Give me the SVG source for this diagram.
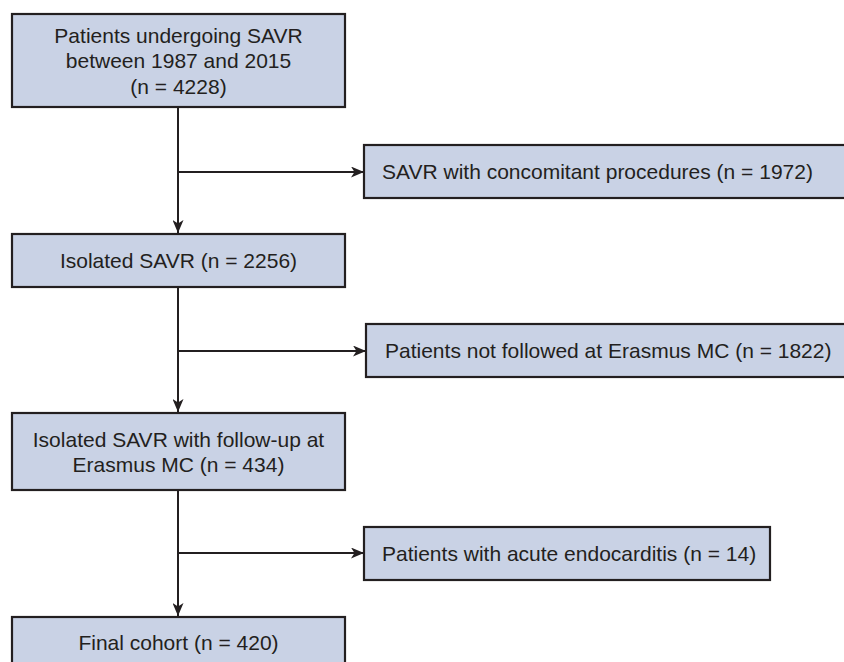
<svg xmlns="http://www.w3.org/2000/svg" width="844" height="662" viewBox="0 0 844 662">
<defs>
<style>
.box{fill:#c9d2e5;stroke:#231f20;stroke-width:2.2}
.t{font-family:"Liberation Sans",Arial,sans-serif;font-size:21px;fill:#231f20}
.c{text-anchor:middle}
.ln{stroke:#231f20;stroke-width:2;fill:none}
</style>
<marker id="ah" viewBox="0 0 13 11" refX="13" refY="5.5" markerWidth="13" markerHeight="11" markerUnits="userSpaceOnUse" orient="auto">
<path d="M0,0 L13,5.5 L0,11 L3.5,5.5 Z" fill="#231f20"/>
</marker>
</defs>
<rect width="844" height="662" fill="#ffffff"/>
<g id="connectors">
<line class="ln" x1="178" y1="107" x2="178" y2="233" marker-end="url(#ah)"/>
<line class="ln" x1="178" y1="172" x2="364" y2="172" marker-end="url(#ah)"/>
<line class="ln" x1="178" y1="287" x2="178" y2="412" marker-end="url(#ah)"/>
<line class="ln" x1="178" y1="351" x2="366" y2="351" marker-end="url(#ah)"/>
<line class="ln" x1="178" y1="490" x2="178" y2="616" marker-end="url(#ah)"/>
<line class="ln" x1="178" y1="553" x2="364" y2="553" marker-end="url(#ah)"/>
</g>
<g id="n1">
<rect class="box" x="12" y="14" width="333" height="93"/>
<text class="t c" x="178.5" y="43">Patients undergoing SAVR</text>
<text class="t c" x="178.5" y="68">between 1987 and 2015</text>
<text class="t c" x="178.5" y="94">(n = 4228)</text>
</g>
<g id="r1">
<rect class="box" x="364" y="145" width="490" height="53"/>
<text class="t" x="382" y="179">SAVR with concomitant procedures (n = 1972)</text>
</g>
<g id="n2">
<rect class="box" x="12" y="234" width="333" height="53"/>
<text class="t c" x="178.5" y="268">Isolated SAVR (n = 2256)</text>
</g>
<g id="r2">
<rect class="box" x="366" y="324" width="490" height="53"/>
<text class="t" x="385" y="358">Patients not followed at Erasmus MC (n = 1822)</text>
</g>
<g id="n3">
<rect class="box" x="12" y="413" width="333" height="77"/>
<text class="t c" x="178.5" y="447">Isolated SAVR with follow-up at</text>
<text class="t c" x="178.5" y="472">Erasmus MC (n = 434)</text>
</g>
<g id="r3">
<rect class="box" x="364" y="527" width="406" height="53"/>
<text class="t" x="382" y="561">Patients with acute endocarditis (n = 14)</text>
</g>
<g id="n4">
<rect class="box" x="12" y="617" width="333" height="60"/>
<text class="t c" x="178.5" y="650">Final cohort (n = 420)</text>
</g>
</svg>
